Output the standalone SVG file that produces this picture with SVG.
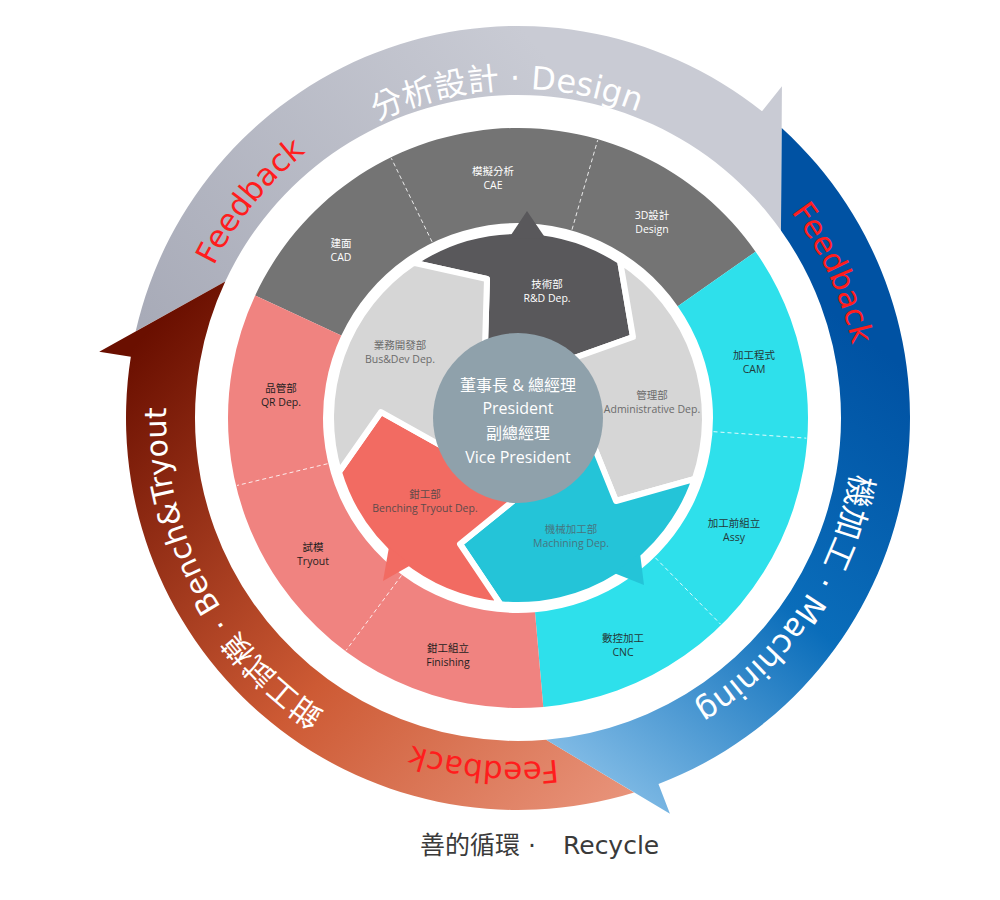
<svg xmlns="http://www.w3.org/2000/svg" width="1000" height="900" viewBox="0 0 1000 900">
<style>
.big{font-family:'DejaVu Sans','Noto Sans CJK TC',sans-serif;font-size:32px;fill:#ffffff}
.fb{font-family:'DejaVu Sans','Noto Sans CJK TC',sans-serif;font-size:31px;fill:#ff1d1d}
.lbl{font-family:'Open Sans','Noto Sans CJK TC',sans-serif;font-size:10.5px;text-anchor:middle}
.ctr{font-family:'Open Sans','Noto Sans CJK TC',sans-serif;font-size:16px;fill:#ffffff;text-anchor:middle}
.w{fill:#ffffff}
.k{fill:#1e1e1e}
.c{fill:#243838}
.g{fill:#6b6b6b}
.dv{stroke:#ffffff;stroke-width:1;stroke-dasharray:4 3;opacity:0.85;fill:none}
.arw{stroke:#ffffff;stroke-width:6;stroke-linejoin:round}
</style>
<defs>
<linearGradient id="gGray" gradientUnits="userSpaceOnUse" x1="520" y1="26" x2="160" y2="340"><stop offset="0" stop-color="#c9cbd4"/><stop offset="1" stop-color="#a8abb8"/></linearGradient>
<linearGradient id="gBlue" gradientUnits="userSpaceOnUse" x1="920" y1="380" x2="600" y2="790"><stop offset="0" stop-color="#0052a3"/><stop offset="0.5" stop-color="#0a6dba"/><stop offset="1" stop-color="#82bce6"/></linearGradient>
<linearGradient id="gRed" gradientUnits="userSpaceOnUse" x1="620" y1="805" x2="140" y2="340"><stop offset="0" stop-color="#e8937a"/><stop offset="0.45" stop-color="#cd5a34"/><stop offset="1" stop-color="#6a0f00"/></linearGradient>
<path id="pTop" d="M 189.45 400.78 A 329 329 0 0 1 844.55 377.91"/>
<path id="pRight" d="M 730.71 155.32 A 338 338 0 0 1 354.13 713.62"/>
<path id="pLeft" d="M 652.70 743.21 A 352 352 0 0 1 328.87 121.13"/>
<path id="pFb1" d="M 281.82 662.58 A 340 340 0 0 1 708.12 136.13"/>
<path id="pFb2" d="M 402.71 96.02 A 342 342 0 0 1 687.45 715.07"/>
<path id="pFb3" d="M 856.02 481.87 A 344 344 0 0 1 174.03 413.80"/>
</defs>
<rect x="0" y="0" width="1000" height="900" fill="#ffffff"/>

<g id="connectors">
<path id="cycle-design" fill="url(#gGray)" d="M 135.69 331.36 A 392 392 0 0 1 762.02 111.22 L 781.94 86.17 L 780.96 230.43 A 323 323 0 0 0 225.26 281.49 Z"/>
<path id="cycle-bench" fill="url(#gRed)" d="M 634.11 792.41 A 392 392 0 0 1 130.83 356.68 L 99.22 351.67 L 225.26 281.49 A 323 323 0 0 0 546.15 739.77 Z"/>
<path id="cycle-machining" fill="url(#gBlue)" d="M 781.76 128.01 A 392 392 0 0 1 658.48 783.96 L 669.95 813.84 L 546.15 739.77 A 323 323 0 0 0 780.96 230.43 Z"/>
<text class="big" text-anchor="middle"><textPath href="#pTop" startOffset="50%">分析設計 · Design</textPath></text>
<text class="big" text-anchor="middle"><textPath href="#pRight" startOffset="50%">機加工 · Machining</textPath></text>
<text class="big" style="font-size:30px" text-anchor="middle"><textPath href="#pLeft" startOffset="50%">鉗工試模 · Bench&amp;Tryout</textPath></text>
<text class="fb" text-anchor="middle"><textPath href="#pFb1" startOffset="50%">Feedback</textPath></text>
<text class="fb" text-anchor="middle"><textPath href="#pFb2" startOffset="50%">Feedback</textPath></text>
<text class="fb" text-anchor="middle"><textPath href="#pFb3" startOffset="50%">Feedback</textPath></text>
</g>

<g id="ring-design">
<path fill="#747474" d="M 255.17 295.44 A 290 290 0 0 1 755.55 251.66 L 677.73 306.15 A 195 195 0 0 0 341.27 335.59 Z"/>
<line class="dv" x1="432.08" y1="241.84" x2="391.31" y2="158.25"/>
<line class="dv" x1="572.02" y1="229.59" x2="597.66" y2="140.20"/>
</g>
<g id="ring-machining">
<path fill="#2ee0eb" d="M 755.55 251.66 A 290 290 0 0 1 543.28 706.90 L 535.00 612.26 A 195 195 0 0 0 677.73 306.15 Z"/>
<line class="dv" x1="713.52" y1="431.67" x2="806.30" y2="438.16"/>
<line class="dv" x1="655.38" y1="557.80" x2="720.56" y2="624.13"/>
</g>
<g id="ring-bench">
<path fill="#f08380" d="M 543.28 706.90 A 290 290 0 0 1 255.17 295.44 L 341.27 335.59 A 195 195 0 0 0 535.00 612.26 Z"/>
<line class="dv" x1="401.42" y1="575.56" x2="346.10" y2="650.32"/>
<line class="dv" x1="327.42" y1="463.76" x2="236.99" y2="485.47"/>
</g>

<g id="seg-cad"><text class="lbl w" x="341" y="246.5">建面</text><text class="lbl w" x="341" y="260.5">CAD</text></g>
<g id="seg-cae"><text class="lbl w" x="493" y="174.5">模擬分析</text><text class="lbl w" x="493" y="188.5">CAE</text></g>
<g id="seg-3d"><text class="lbl w" x="652" y="218.5">3D設計</text><text class="lbl w" x="652" y="232.5">Design</text></g>
<g id="seg-cam"><text class="lbl c" x="754" y="358.5">加工程式</text><text class="lbl c" x="754" y="372.5">CAM</text></g>
<g id="seg-assy"><text class="lbl c" x="734" y="526.5">加工前組立</text><text class="lbl c" x="734" y="540.5">Assy</text></g>
<g id="seg-cnc"><text class="lbl c" x="623" y="641.5">數控加工</text><text class="lbl c" x="623" y="655.5">CNC</text></g>
<g id="seg-finishing"><text class="lbl k" x="448" y="651.5">鉗工組立</text><text class="lbl k" x="448" y="665.5">Finishing</text></g>
<g id="seg-tryout"><text class="lbl k" x="313" y="550.5">試模</text><text class="lbl k" x="313" y="564.5">Tryout</text></g>
<g id="seg-qr"><text class="lbl k" x="281" y="391.5">品管部</text><text class="lbl k" x="281" y="405.5">QR Dep.</text></g>

<g id="dept-rd">
<path class="arw" fill="#59585b" d="M 518 418 L 485 346 L 487 279 L 413.72 262.78 A 187 187 0 0 1 620.12 261.35 L 633 337 L 574 358 Z"/>
<polygon fill="#59585b" points="509,238 527,211 546,239"/>
<text class="lbl w" x="547" y="287.5">技術部</text><text class="lbl w" x="547" y="302">R&amp;D Dep.</text>
</g>
<g id="dept-admin">
<path class="arw" fill="#d6d6d6" d="M 518 418 L 574 358 L 633 337 L 620.12 261.35 A 187 187 0 0 1 694.81 478.88 L 616 501 L 595 449 Z"/>
<text class="lbl g" x="652" y="398.5">管理部</text><text class="lbl g" x="652" y="412.5">Administrative Dep.</text>
</g>
<g id="dept-machining">
<path class="arw" fill="#24c4d8" d="M 518 418 L 595 449 L 616 501 L 694.81 478.88 A 187 187 0 0 1 500.40 604.17 L 460 544 L 513 501 Z"/>
<polygon fill="#24c4d8" points="640,553 644,585 614,573"/>
<text class="lbl" style="fill:#467580" x="571" y="532.5">機械加工部</text><text class="lbl" style="fill:#467580" x="571" y="547">Machining Dep.</text>
</g>
<g id="dept-bench">
<path class="arw" fill="#f26b62" d="M 518 418 L 513 501 L 460 544 L 500.40 604.17 A 187 187 0 0 1 338.98 472.05 L 381 412 L 440 445 Z"/>
<polygon fill="#f26b62" points="389,547 383,581 411,565"/>
<text class="lbl" style="fill:#5e4a4a" x="425" y="497.5">鉗工部</text><text class="lbl" style="fill:#5e4a4a" x="425" y="511.5">Benching Tryout Dep.</text>
</g>
<g id="dept-busdev">
<path class="arw" fill="#d6d6d6" d="M 518 418 L 440 445 L 381 412 L 338.98 472.05 A 187 187 0 0 1 413.72 262.78 L 487 279 L 485 346 Z"/>
<text class="lbl g" x="400" y="348.5">業務開發部</text><text class="lbl g" x="400" y="362.5">Bus&amp;Dev Dep.</text>
</g>

<g id="president">
<circle cx="518" cy="418" r="85" fill="#8fa1ab"/>
<text class="ctr" x="518" y="391">董事長 &amp; 總經理</text>
<text class="ctr" x="518" y="414">President</text>
<text class="ctr" x="518" y="439">副總經理</text>
<text class="ctr" x="518" y="463">Vice President</text>
</g>

<g id="title">
<text x="420" y="854" style="font-family:'DejaVu Sans','Noto Sans CJK TC',sans-serif;font-size:25px;fill:#3a3a3a">善的循環 ·</text>
<text x="563" y="854" style="font-family:'DejaVu Sans','Noto Sans CJK TC',sans-serif;font-size:25px;fill:#3a3a3a">Recycle</text>
</g>
</svg>
